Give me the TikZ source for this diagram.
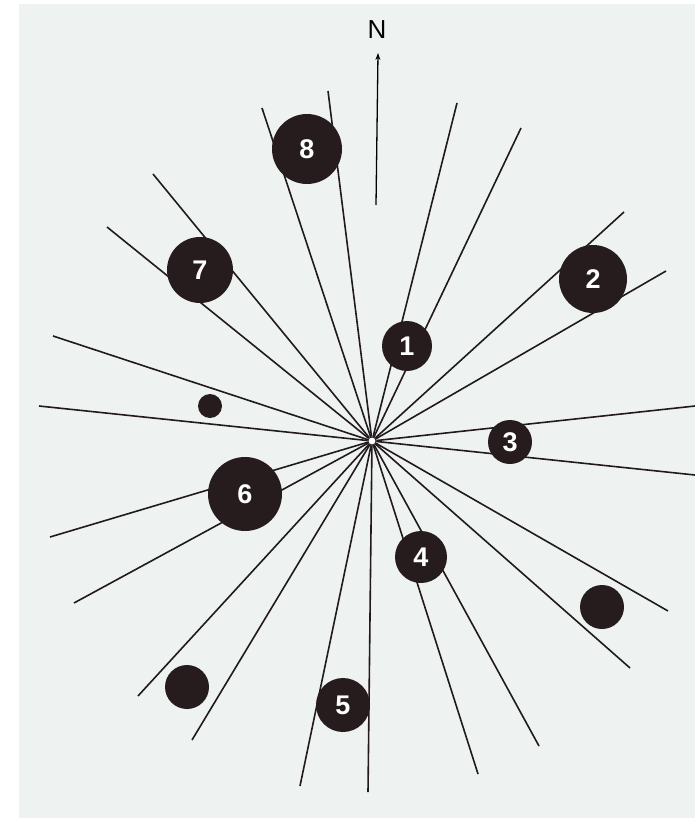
\documentclass[tikz,border=0pt]{standalone}
\usepackage{fontspec}
\setmainfont{Liberation Sans}
\usetikzlibrary{arrows.meta}
\definecolor{paper}{RGB}{238,243,241}
\definecolor{ink}{RGB}{38,28,30}
\tikzset{
  ray/.style={line width=1.6pt, draw=ink!90!black},
  disc/.style={circle, fill=ink, draw=none, inner sep=0pt, text=white, font=\fontsize{27}{27}\selectfont\bfseries},
  hub/.style={circle, fill=white, draw=ink, line width=0.8pt, inner sep=0pt, minimum size=8pt}
}
\begin{document}
\begin{tikzpicture}[x=1pt,y=-1pt]
\useasboundingbox (0,0) rectangle (695,818);
\fill[white] (0,0) rectangle (695,818);
\fill[paper] (19,4) rectangle (695,818);
% north arrow
\coordinate (ns) at (376,205);
\coordinate (nt) at (378,53);
\draw[line width=1.3pt, -{Stealth[length=7pt,width=5pt]}] (ns) -- (nt);
\node[font=\fontsize{26}{26}\selectfont] (N) at (377,30) {N};
% hub
\node[hub] (c) at (372,441) {};
% ray end points
\foreach \i/\x/\y in {1/262/108, 2/328/91, 3/457/103, 4/521/128, 5/624/212, 6/666/271,
  7/695/406, 8/695/475, 9/668/611, 10/630/668, 11/539/746, 12/478/774, 13/368/792,
  14/300/786, 15/192/740, 16/138/696, 17/74/603, 18/50/537, 19/39/406, 20/53/336,
  21/107/227, 22/153/174}{
  \coordinate (e\i) at (\x,\y);
  \draw[ray] (c) -- (e\i);
}
% discs
\node[disc, minimum size=70pt] (d8) at (307,149) {8};
\node[disc, minimum size=66pt] (d7) at (200,270) {7};
\node[disc, minimum size=50pt] (d1) at (407,346) {1};
\node[disc, minimum size=68pt] (d2) at (593,279) {2};
\node[disc, minimum size=44pt] (d3) at (510,442) {3};
\node[disc, minimum size=74pt] (d6) at (245,494) {6};
\node[disc, minimum size=52pt] (d4) at (421,557) {4};
\node[disc, minimum size=54pt] (d5) at (343,705) {5};
\node[disc, minimum size=24pt] (s1) at (210,406) {};
\node[disc, minimum size=44pt] (s2) at (187,687) {};
\node[disc, minimum size=44pt] (s3) at (602,607) {};
\node[hub] at (c) {};
\end{tikzpicture}
\end{document}
